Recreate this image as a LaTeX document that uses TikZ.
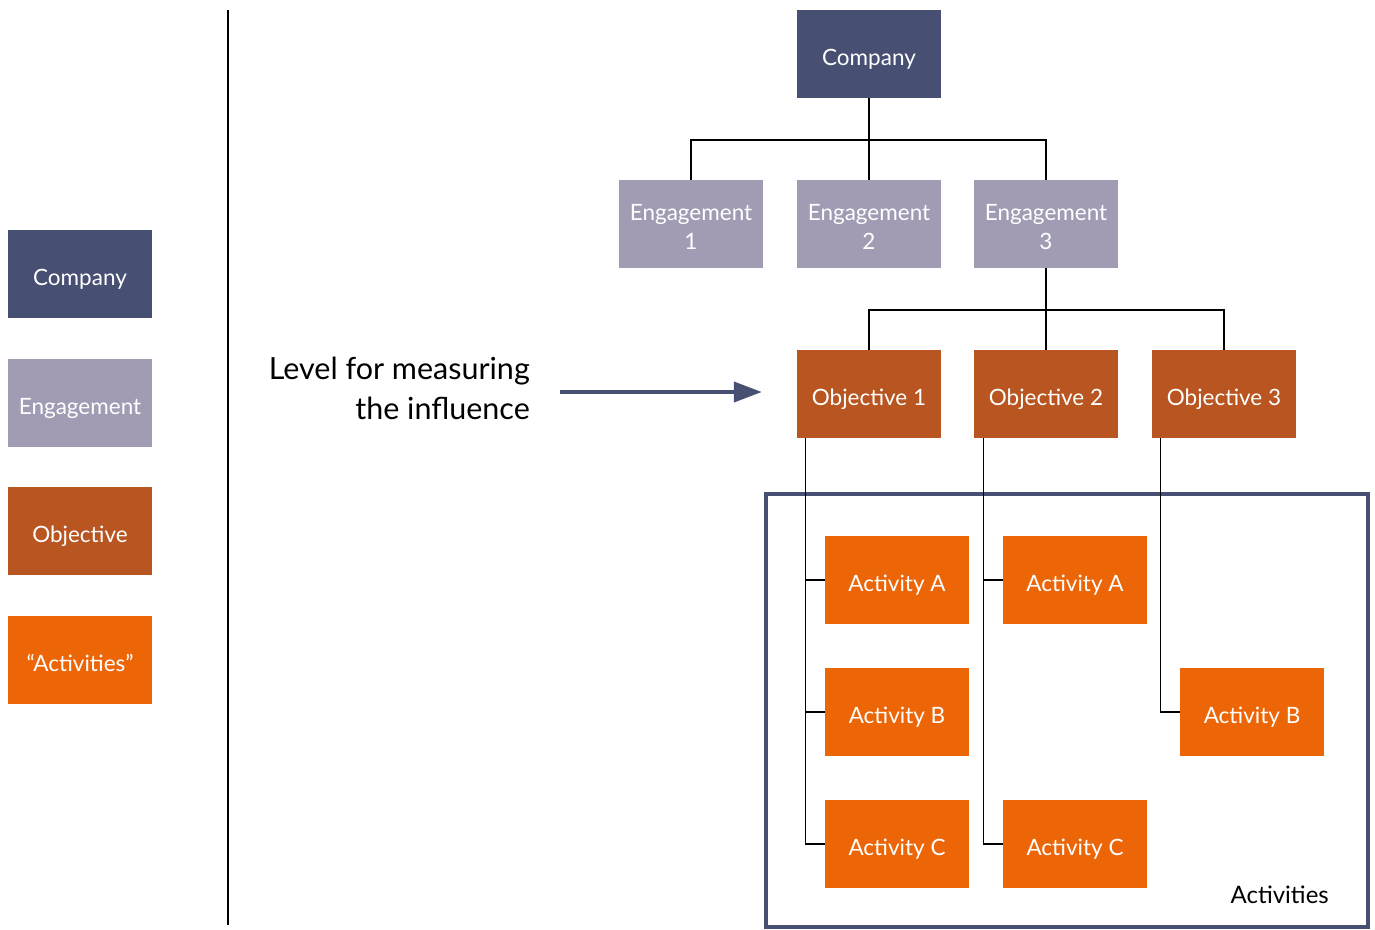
\documentclass[tikz,border=0pt]{standalone}
\usepackage{fontspec}
\setmainfont{Lato}
\usetikzlibrary{arrows.meta}
\definecolor{compcol}{HTML}{474F72}
\definecolor{engcol}{HTML}{A19CB4}
\definecolor{objcol}{HTML}{B85520}
\definecolor{actcol}{HTML}{EC6608}
\newcommand{\boxstrut}{\rule{0pt}{1.02em}}
\begin{document}
\begin{tikzpicture}[x=1pt,y=-1pt,
  box/.style={minimum width=144pt,minimum height=88pt,inner sep=0pt,text=white,
    align=center,font=\fontsize{22.5}{29}\selectfont,text depth=0pt},
  compbox/.style={box,fill=compcol},
  engbox/.style={box,fill=engcol},
  objbox/.style={box,fill=objcol},
  actbox/.style={box,fill=actcol},
  link/.style={draw=black,line width=1.2pt}]
\useasboundingbox (0,0) rectangle (1375,929);

% legend
\node[compbox] (lc) at (80,274) {\boxstrut Company};
\node[engbox]  (le) at (80,403) {\boxstrut Engagement};
\node[objbox]  (lo) at (80,531) {\boxstrut Objective};
\node[actbox]  (la) at (80,660) {\boxstrut “Activities”};
\coordinate (sepTop) at (228,10);
\coordinate (sepBot) at (228,925);
\draw[line width=1.2pt] (sepTop) -- (sepBot);

% activities frame
\node[draw=compcol,line width=3.5pt,minimum width=602pt,minimum height=433pt,inner sep=0pt] (frame) at (1067,710.5) {};
\node[anchor=south east,font=\fontsize{24}{28}\selectfont,inner sep=0pt] (actlbl) at (1329,904) {Activities};

% hierarchy
\node[compbox] (c)  at (869,54) {\boxstrut Company};
\node[engbox] (e1) at (691,224) {\boxstrut Engagement\\1};
\node[engbox] (e2) at (869,224) {\boxstrut Engagement\\2};
\node[engbox] (e3) at (1046,224) {\boxstrut Engagement\\3};
\node[objbox] (o1) at (869,394) {\boxstrut Objective 1};
\node[objbox] (o2) at (1046,394) {\boxstrut Objective 2};
\node[objbox] (o3) at (1224,394) {\boxstrut Objective 3};

\node[actbox] (a1) at (897,580) {\boxstrut Activity A};
\node[actbox] (b1) at (897,712) {\boxstrut Activity B};
\node[actbox] (c1) at (897,844) {\boxstrut Activity C};
\node[actbox] (a2) at (1075,580) {\boxstrut Activity A};
\node[actbox] (c2) at (1075,844) {\boxstrut Activity C};
\node[actbox] (b3) at (1252,712) {\boxstrut Activity B};

% tree connectors
\draw[link] (c.south) |- (869,140) -| (e1.north);
\draw[link] (c.south) |- (869,140) -| (e3.north);
\draw[link] (c.south) -- (e2.north);
\draw[link] (e3.south) |- (1046,310) -| (o1.north);
\draw[link] (e3.south) |- (1046,310) -| (o3.north);
\draw[link] (e3.south) -- (o2.north);

\draw[link] ([xshift=9pt]o1.south west) |- (c1.west);
\draw[link] ([xshift=9pt]o1.south west) |- (a1.west);
\draw[link] ([xshift=9pt]o1.south west) |- (b1.west);
\draw[link] ([xshift=10pt]o2.south west) |- (c2.west);
\draw[link] ([xshift=10pt]o2.south west) |- (a2.west);
\draw[link] ([xshift=9pt]o3.south west) |- (b3.west);

% measuring level
\node[anchor=east,align=right,font=\fontsize{30.5}{40}\selectfont,inner sep=0pt] (lvl) at (530,388) {Level for measuring\\the influence};
\coordinate (arrStart) at (560,392);
\draw[compcol,line width=4pt,-{Triangle[length=28pt,width=20pt]}] (arrStart) -- ([xshift=-35pt]o1.west |- arrStart);
\end{tikzpicture}
\end{document}
